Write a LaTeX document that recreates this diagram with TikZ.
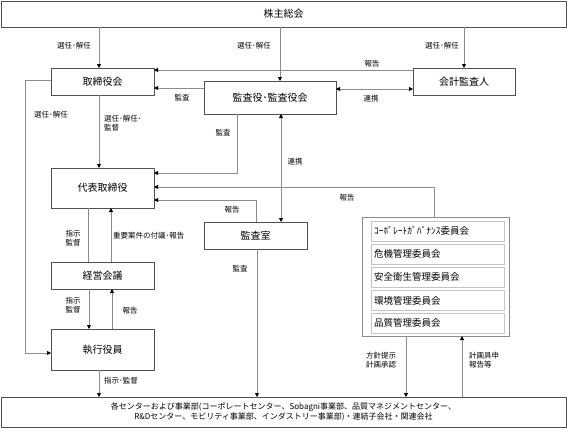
\documentclass[tikz,border=0pt]{standalone}
\usepackage{fontspec}
\setmainfont{Noto Sans CJK JP}
\usetikzlibrary{arrows.meta}
\definecolor{boxline}{HTML}{505050}
\definecolor{conline}{HTML}{8C8C8C}
\definecolor{subline}{HTML}{C4C4C4}
\tikzset{
  box/.style={draw=boxline, line width=0.8pt, inner sep=0pt, outer sep=0pt, font=\fontsize{10}{12}\selectfont},
  subbox/.style={draw=subline, line width=1pt, inner sep=0pt, outer sep=0pt, minimum width=133pt, minimum height=20pt, font=\fontsize{9.5}{11}\selectfont, text width=127pt, align=left},
  con/.style={draw=conline, line width=0.8pt},
  arr/.style={con, -{Triangle[length=4pt,width=4pt,color=black]}},
  darr/.style={con, {Triangle[length=4pt,width=4pt,color=black]}-{Triangle[length=4pt,width=4pt,color=black]}},
  lbl/.style={inner sep=0pt, font=\fontsize{7.5}{9.5}\selectfont, align=center},
  lbll/.style={inner sep=0pt, font=\fontsize{7.5}{9.5}\selectfont, align=left, anchor=west}
}
\begin{document}
\begin{tikzpicture}[x=1pt,y=-1pt]
\useasboundingbox (0,0) rectangle (567,428);
% boxes
\node[box, minimum width=565pt, minimum height=26pt] (kabu) at (283.5,14) {株主総会};
\node[box, minimum width=103pt, minimum height=27pt] (tori) at (102.5,81.5) {取締役会};
\node[box, minimum width=132pt, minimum height=33pt] (kansa) at (270,97.5) {監査役･監査役会};
\node[box, minimum width=102pt, minimum height=27pt] (kaikei) at (464,81.5) {会計監査人};
\node[box, minimum width=103pt, minimum height=40pt] (daihyo) at (102.5,188) {代表取締役};
\node[box, minimum width=103pt, minimum height=27pt] (shitsu) at (255.5,235.5) {監査室};
\node[box, minimum width=103pt, minimum height=27pt] (keiei) at (102.5,275.5) {経営会議};
\node[box, minimum width=103pt, minimum height=41pt] (shikko) at (102.5,349.5) {執行役員};
\node[box, minimum width=565pt, minimum height=30pt, font=\fontsize{8}{10.5}\selectfont, align=center] (bottom) at (283.5,412) {各センターおよび事業部(コーポレートセンター、Sobagni事業部、品質マネジメントセンター、\\R\&Dセンター、モビリティ事業部、インダストリー事業部)・連結子会社・関連会社};
\node[box, draw=conline, minimum width=147pt, minimum height=119pt] (comm) at (435.5,276.5) {};
\node[subbox] (c1) at (437.5,231) {ｺｰﾎﾟﾚｰﾄｶﾞﾊﾞﾅﾝｽ委員会};
\node[subbox] (c2) at (437.5,254) {危機管理委員会};
\node[subbox] (c3) at (437.5,277) {安全衛生管理委員会};
\node[subbox] (c4) at (437.5,300.5) {環境管理委員会};
\node[subbox] (c5) at (437.5,323) {品質管理委員会};
% helper coordinates
\coordinate (x88) at (88,0);
\coordinate (x89) at (89,0);
\coordinate (x99) at (99,0);
\coordinate (x111) at (111,0);
\coordinate (x112) at (112,0);
\coordinate (x237) at (237,0);
\coordinate (x256) at (256,0);
\coordinate (x257) at (257,0);
\coordinate (x280) at (280,0);
\coordinate (x281) at (281,0);
\coordinate (x406) at (406,0);
\coordinate (x434) at (434,0);
\coordinate (x462) at (462,0);
\coordinate (y70) at (0,70);
\coordinate (y80) at (0,80);
\coordinate (y88) at (0,88);
\coordinate (y89) at (0,89);
\coordinate (y173) at (0,173);
\coordinate (y187) at (0,187);
\coordinate (y200) at (0,200);
\coordinate (bendA) at (25,80);
\coordinate (bendB) at (25,353);
% connectors
\draw[arr] (kabu.south -| x99) -- (tori.north -| x99);
\draw[arr] (kabu.south -| x280) -- (kansa.north -| x280);
\draw[arr] (kabu.south -| kaikei) -- (kaikei.north);
\draw[arr] (kaikei.west |- y70) -- (tori.east |- y70);
\draw[arr] (kansa.west |- y88) -- (tori.east |- y88);
\draw[darr] (kansa.east |- y89) -- (kaikei.west |- y89);
\draw[arr] (tori.south -| x99) -- (daihyo.north -| x99);
\draw[arr] (tori.west |- bendA) -- (bendA) -- (bendB) -- (shikko.west |- bendB);
\draw[arr] (kansa.south -| x237) |- (daihyo.east |- y173);
\draw[darr] (kansa.south -| x281) -- (shitsu.north -| x281);
\draw[arr] (comm.north -| x434) |- (daihyo.east |- y187);
\draw[arr] (shitsu.north -| x256) |- (daihyo.east |- y200);
\draw[con] (daihyo.south -| x88) -- (keiei.north -| x88);
\draw[arr] (keiei.north -| x111) -- (daihyo.south -| x111);
\draw[arr] (keiei.south -| x89) -- (shikko.north -| x89);
\draw[arr] (shikko.north -| x112) -- (keiei.south -| x112);
\draw[arr] (shikko.south -| x99) -- (bottom.north -| x99);
\draw[arr] (shitsu.south -| x257) -- (bottom.north -| x257);
\draw[arr] (comm.south -| x406) -- (bottom.north -| x406);
\draw[arr] (bottom.north -| x462) -- (comm.south -| x462);
% labels
\node[lbl] (l1) at (74,46) {選任･解任};
\node[lbl] (l2) at (254,46) {選任･解任};
\node[lbl] (l3) at (442,46) {選任･解任};
\node[lbl] (l4) at (372,64) {報告};
\node[lbl] (l5) at (182,98) {監査};
\node[lbl] (l6) at (371,99) {連携};
\node[lbll] (l7) at (104,123) {選任･解任･\\監督};
\node[lbl] (l8) at (51,115) {選任･解任};
\node[lbl] (l9) at (223,133) {監査};
\node[lbl] (l10) at (295,162) {連携};
\node[lbl] (l11) at (347,198) {報告};
\node[lbl] (l12) at (232,210) {報告};
\node[lbl] (l13) at (73,238) {指示\\監督};
\node[lbll] (l14) at (113,236) {重要案件の付議･報告};
\node[lbl] (l15) at (73,305) {指示\\監督};
\node[lbl] (l16) at (130,311) {報告};
\node[lbll] (l17) at (104,381) {指示･監督};
\node[lbl] (l18) at (240,269) {監査};
\node[lbl] (l19) at (381,360) {方針提示\\計画承認};
\node[lbll] (l20) at (469,360) {計画具申\\報告等};
\end{tikzpicture}
\end{document}
